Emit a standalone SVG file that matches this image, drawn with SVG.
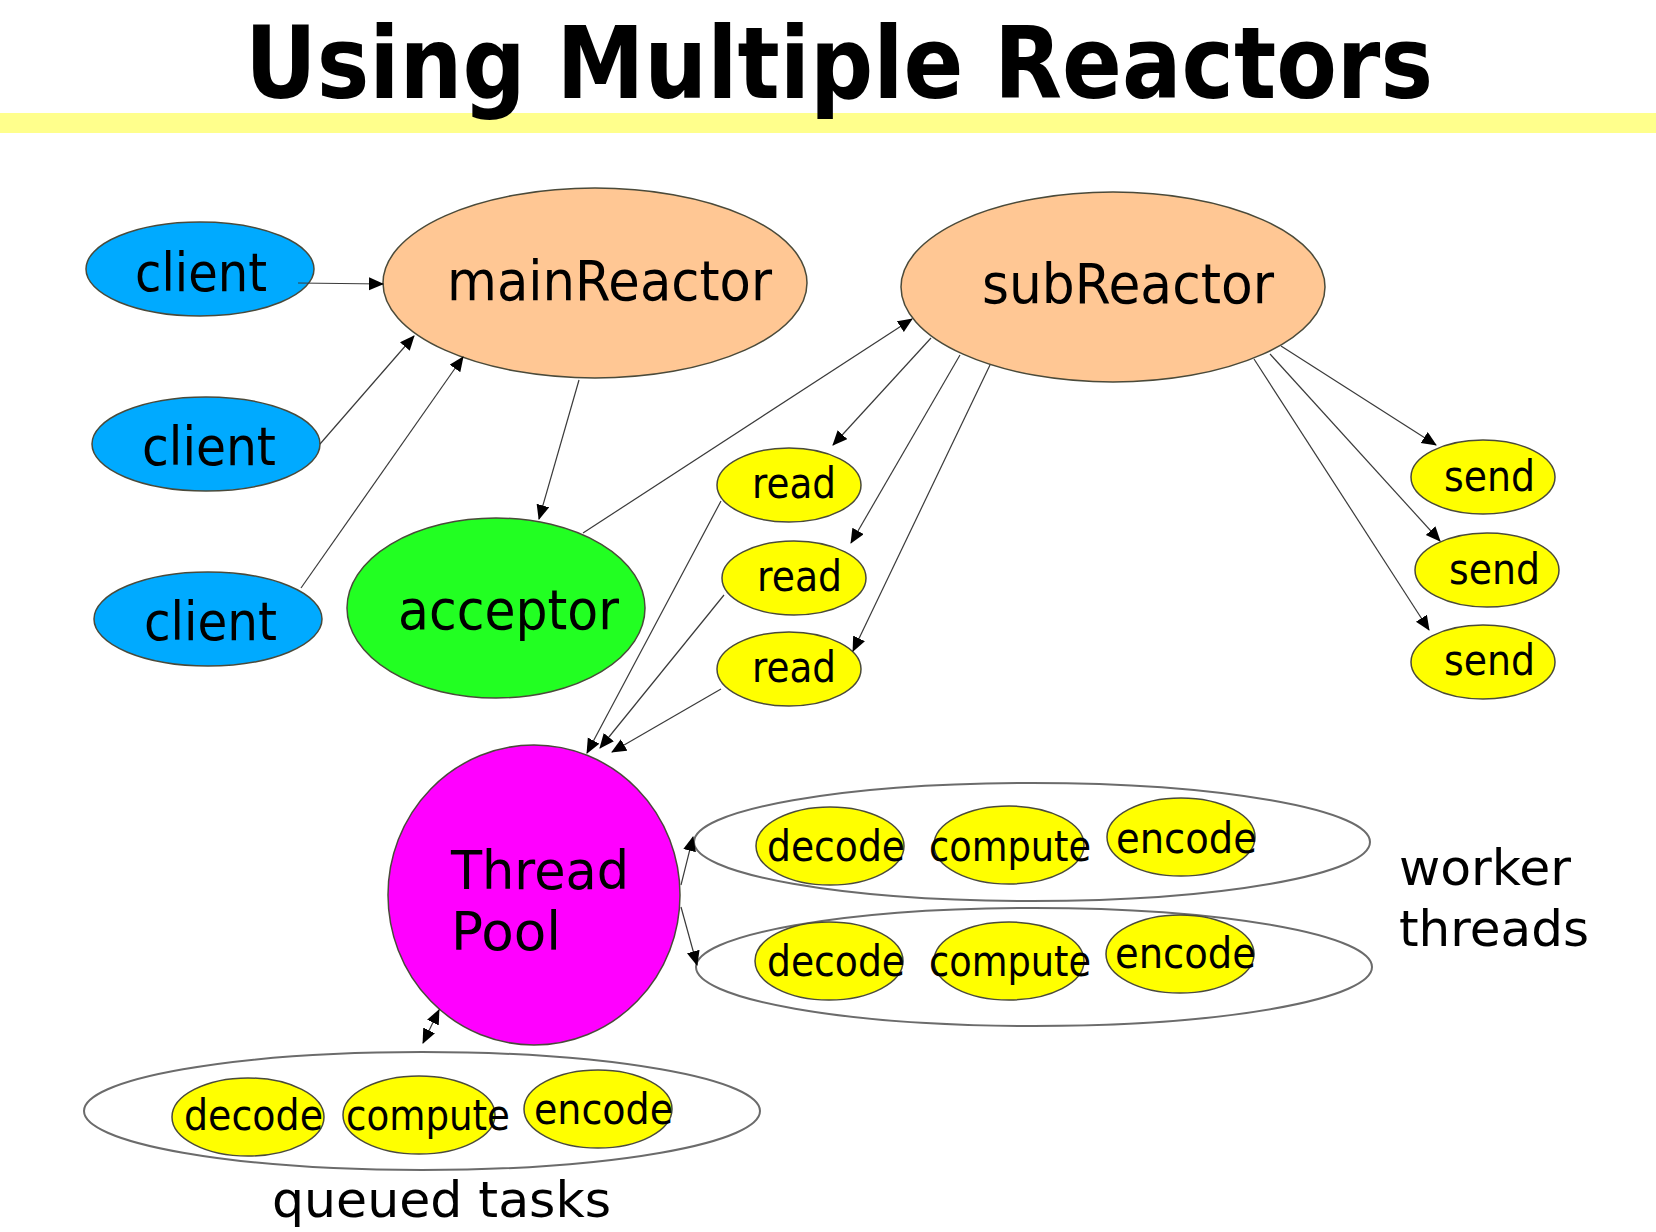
<svg xmlns="http://www.w3.org/2000/svg" width="1656" height="1232" viewBox="0 0 1656 1232">
<defs>
<marker id="arr" markerUnits="userSpaceOnUse" markerWidth="16" markerHeight="14" refX="14" refY="6.5" orient="auto-start-reverse">
<path d="M0,0 L15,6.5 L0,13 z" fill="#000"/>
</marker>
<style>
.t{font-family:"DejaVu Sans","Liberation Sans",sans-serif;fill:#000}
.n{stroke:#4a4a3a;stroke-width:1.5}
.grp{fill:#fff;stroke:#6b6b6b;stroke-width:2}
.y{fill:#ffff00}
.c{fill:#00aaff}
.o{fill:#ffc794}
.e{stroke:#3a3a3a;stroke-width:1.2;fill:none;marker-end:url(#arr)}
</style>
</defs>
<rect x="0" y="0" width="1656" height="1232" fill="#fff"/>
<rect x="0" y="113" width="1656" height="20" fill="#ffff8c"/>
<text class="t" x="839" y="98" font-size="99" font-weight="bold" text-anchor="middle" textLength="1188" lengthAdjust="spacingAndGlyphs">Using Multiple Reactors</text>

<g id="queue-group"><ellipse class="grp" cx="422" cy="1111" rx="338" ry="59"/></g>
<g id="worker-group-1"><ellipse class="grp" cx="1032" cy="842" rx="338" ry="59"/></g>
<g id="worker-group-2"><ellipse class="grp" cx="1034" cy="967" rx="338" ry="59"/></g>

<g id="client1"><ellipse class="n c" cx="200" cy="269" rx="114" ry="47"/><text class="t" x="135" y="291" font-size="53" textLength="132" lengthAdjust="spacingAndGlyphs">client</text></g>
<g id="client2"><ellipse class="n c" cx="206" cy="444" rx="114" ry="47"/><text class="t" x="142" y="465" font-size="53" textLength="134" lengthAdjust="spacingAndGlyphs">client</text></g>
<g id="client3"><ellipse class="n c" cx="208" cy="619" rx="114" ry="47"/><text class="t" x="144" y="640" font-size="53" textLength="133" lengthAdjust="spacingAndGlyphs">client</text></g>

<g id="mainReactor"><ellipse class="n o" cx="595" cy="283" rx="212" ry="95"/><text class="t" x="447" y="300" font-size="55" textLength="325" lengthAdjust="spacingAndGlyphs">mainReactor</text></g>
<g id="subReactor"><ellipse class="n o" cx="1113" cy="287" rx="212" ry="95"/><text class="t" x="982" y="303" font-size="55" textLength="292" lengthAdjust="spacingAndGlyphs">subReactor</text></g>
<g id="acceptor"><ellipse class="n" fill="#22ff22" cx="496" cy="608" rx="149" ry="90"/><text class="t" x="398" y="629" font-size="55" textLength="221" lengthAdjust="spacingAndGlyphs">acceptor</text></g>

<g id="read1"><ellipse class="n y" cx="789" cy="485" rx="72" ry="37"/><text class="t" x="752" y="498" font-size="43" textLength="84" lengthAdjust="spacingAndGlyphs">read</text></g>
<g id="read2"><ellipse class="n y" cx="794" cy="578" rx="72" ry="37"/><text class="t" x="757" y="591" font-size="43" textLength="85" lengthAdjust="spacingAndGlyphs">read</text></g>
<g id="read3"><ellipse class="n y" cx="789" cy="669" rx="72" ry="37"/><text class="t" x="752" y="682" font-size="43" textLength="84" lengthAdjust="spacingAndGlyphs">read</text></g>

<g id="send1"><ellipse class="n y" cx="1483" cy="477" rx="72" ry="37"/><text class="t" x="1444" y="491" font-size="43" textLength="91" lengthAdjust="spacingAndGlyphs">send</text></g>
<g id="send2"><ellipse class="n y" cx="1487" cy="570" rx="72" ry="37"/><text class="t" x="1449" y="584" font-size="43" textLength="91" lengthAdjust="spacingAndGlyphs">send</text></g>
<g id="send3"><ellipse class="n y" cx="1483" cy="662" rx="72" ry="37"/><text class="t" x="1444" y="675" font-size="43" textLength="91" lengthAdjust="spacingAndGlyphs">send</text></g>

<g id="threadPool"><ellipse class="n" fill="#ff00ff" cx="534" cy="895" rx="146" ry="150"/><text class="t" x="451" y="889" font-size="53" textLength="178" lengthAdjust="spacingAndGlyphs">Thread</text><text class="t" x="451" y="950" font-size="53" textLength="110" lengthAdjust="spacingAndGlyphs">Pool</text></g>

<g id="w1-decode"><ellipse class="n y" cx="830" cy="846" rx="74" ry="39"/><text class="t" x="767" y="861" font-size="42" textLength="138" lengthAdjust="spacingAndGlyphs">decode</text></g>
<g id="w1-compute"><ellipse class="n y" cx="1009" cy="845" rx="75" ry="39"/><text class="t" x="929" y="861" font-size="42" textLength="162" lengthAdjust="spacingAndGlyphs">compute</text></g>
<g id="w1-encode"><ellipse class="n y" cx="1181" cy="837" rx="74" ry="39"/><text class="t" x="1116" y="853" font-size="42" textLength="141" lengthAdjust="spacingAndGlyphs">encode</text></g>

<g id="w2-decode"><ellipse class="n y" cx="829" cy="961" rx="74" ry="39"/><text class="t" x="767" y="976" font-size="42" textLength="138" lengthAdjust="spacingAndGlyphs">decode</text></g>
<g id="w2-compute"><ellipse class="n y" cx="1009" cy="961" rx="75" ry="39"/><text class="t" x="929" y="976" font-size="42" textLength="162" lengthAdjust="spacingAndGlyphs">compute</text></g>
<g id="w2-encode"><ellipse class="n y" cx="1180" cy="954" rx="74" ry="39"/><text class="t" x="1115" y="968" font-size="42" textLength="141" lengthAdjust="spacingAndGlyphs">encode</text></g>

<g id="q-decode"><ellipse class="n y" cx="248" cy="1117" rx="76" ry="39"/><text class="t" x="184" y="1130" font-size="42" textLength="139" lengthAdjust="spacingAndGlyphs">decode</text></g>
<g id="q-compute"><ellipse class="n y" cx="419" cy="1115" rx="76" ry="39"/><text class="t" x="346" y="1130" font-size="42" textLength="164" lengthAdjust="spacingAndGlyphs">compute</text></g>
<g id="q-encode"><ellipse class="n y" cx="598" cy="1109" rx="74" ry="39"/><text class="t" x="534" y="1124" font-size="42" textLength="139" lengthAdjust="spacingAndGlyphs">encode</text></g>

<g id="label-worker-threads"><text class="t" x="1399" y="885" font-size="49" textLength="172" lengthAdjust="spacingAndGlyphs">worker</text><text class="t" x="1399" y="946" font-size="49" textLength="190" lengthAdjust="spacingAndGlyphs">threads</text></g>
<g id="label-queued-tasks"><text class="t" x="272" y="1217" font-size="49" textLength="339" lengthAdjust="spacingAndGlyphs">queued tasks</text></g>

<g id="connectors">
<line class="e" x1="298" y1="283" x2="383" y2="284"/>
<line class="e" x1="320" y1="444" x2="414" y2="336"/>
<line class="e" x1="301" y1="588" x2="463" y2="357"/>
<line class="e" x1="579" y1="380" x2="539" y2="519"/>
<line class="e" x1="583" y1="533" x2="912" y2="319"/>
<line class="e" x1="931" y1="338" x2="833" y2="445"/>
<line class="e" x1="960" y1="355" x2="851" y2="543"/>
<line class="e" x1="990" y1="365" x2="853" y2="651"/>
<line class="e" x1="1281" y1="346" x2="1436" y2="445"/>
<line class="e" x1="1270" y1="354" x2="1440" y2="541"/>
<line class="e" x1="1254" y1="359" x2="1429" y2="630"/>
<line class="e" x1="721" y1="501" x2="587" y2="753"/>
<line class="e" x1="724" y1="595" x2="600" y2="748"/>
<line class="e" x1="721" y1="689" x2="612" y2="752"/>
<line class="e" x1="681" y1="885" x2="693" y2="837"/>
<line class="e" x1="681" y1="907" x2="697" y2="965"/>
<line class="e" x1="423" y1="1043" x2="439" y2="1010" marker-start="url(#arr)"/>
</g>
</svg>
